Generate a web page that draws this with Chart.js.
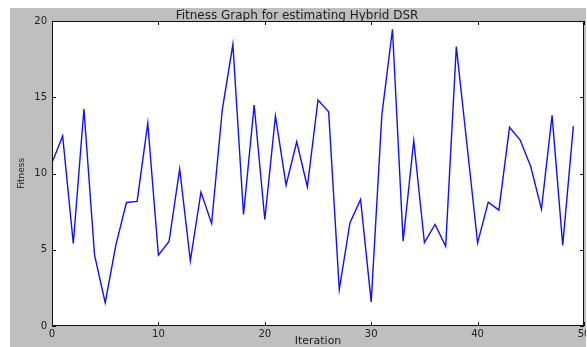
<!DOCTYPE html>
<html>
<head>
<meta charset="utf-8">
<script src="https://cdn.jsdelivr.net/npm/chart.js@4/dist/chart.umd.min.js"></script>
<style>
  body { margin: 0; background: #ffffff; }
  #wrap { position: absolute; left: 10px; top: 8px; width: 576px; height: 339px; background: #bfbfbf; }
  canvas { display: block; }
</style>
</head>
<body>
<div id="wrap"><canvas id="fitnessChart" width="576" height="339"></canvas></div>
<script>
var iterations = [0, 1, 2, 3, 4, 5, 6, 7, 8, 9,
                  10, 11, 12, 13, 14, 15, 16, 17, 18, 19,
                  20, 21, 22, 23, 24, 25, 26, 27, 28, 29,
                  30, 31, 32, 33, 34, 35, 36, 37, 38, 39,
                  40, 41, 42, 43, 44, 45, 46, 47, 48, 49];
var fitness = [10.7, 12.46, 5.41, 14.23, 4.64, 1.53, 5.3, 8.1, 8.17, 13.29,
               4.64, 5.54, 10.3, 4.27, 8.78, 6.72, 14.16, 18.47, 7.31, 14.49,
               6.98, 13.77, 9.24, 12.08, 9.13, 14.82, 14.05, 2.39, 6.76, 8.3,
               1.58, 13.83, 19.46, 5.56, 12.15, 5.47, 6.66, 5.23, 18.32, 11.9,
               5.45, 8.12, 7.6, 13.03, 12.19, 10.44, 7.66, 13.81, 5.3, 13.11];
var xTicks = [0, 10, 20, 30, 40, 50];
var yTicks = [0, 5, 10, 15, 20];

var points = [];
for (var i = 0; i < iterations.length; i++) {
    points.push({ x: iterations[i], y: fitness[i] });
}

// white plot area, black frame and inward ticks like matplotlib
var framePlugin = {
    id: 'frame',
    beforeDraw: function (chart) {
        var a = chart.chartArea, ctx = chart.ctx;
        ctx.save();
        ctx.fillStyle = '#ffffff';
        ctx.fillRect(a.left, a.top, a.right - a.left, a.bottom - a.top);
        ctx.restore();
    },
    afterDraw: function (chart) {
        var a = chart.chartArea, ctx = chart.ctx;
        var xs = chart.scales.x, ys = chart.scales.y;
        ctx.save();
        ctx.strokeStyle = '#111111';
        ctx.lineWidth = 1;
        ctx.strokeRect(Math.round(a.left) + 0.5, Math.round(a.top) + 0.5,
                       Math.round(a.right - a.left) - 1, Math.round(a.bottom - a.top) - 1);
        ctx.beginPath();
        xTicks.forEach(function (v) {
            var px = Math.round(xs.getPixelForValue(v)) + 0.5;
            ctx.moveTo(px, a.bottom); ctx.lineTo(px, a.bottom - 4);
            ctx.moveTo(px, a.top); ctx.lineTo(px, a.top + 4);
        });
        yTicks.forEach(function (v) {
            var py = Math.round(ys.getPixelForValue(v)) + 0.5;
            ctx.moveTo(a.left, py); ctx.lineTo(a.left + 4, py);
            ctx.moveTo(a.right, py); ctx.lineTo(a.right - 4, py);
        });
        ctx.stroke();
        ctx.restore();
    }
};

var ctx = document.getElementById('fitnessChart').getContext('2d');
new Chart(ctx, {
    type: 'line',
    data: {
        datasets: [{
            label: 'Fitness',
            data: points,
            borderColor: '#1010ff',
            borderWidth: 1.4,
            pointRadius: 0,
            tension: 0,
            fill: false
        }]
    },
    options: {
        responsive: false,
        animation: false,
        devicePixelRatio: 1,
        layout: { padding: { left: 0, right: 2, top: 0, bottom: 0 } },
        plugins: {
            legend: { display: false },
            tooltip: { enabled: false },
            title: {
                display: true,
                text: 'Fitness Graph for estimating Hybrid DSR',
                color: '#222222',
                font: { family: 'DejaVu Sans', size: 12, weight: 'normal', lineHeight: 1 },
                padding: { top: 2, bottom: -1 }
            }
        },
        scales: {
            x: {
                type: 'linear',
                min: 0,
                max: 50,
                afterBuildTicks: function (s) { s.ticks = xTicks.map(function (v) { return { value: v }; }); },
                afterFit: function (s) { s.height = 21; s.paddingLeft = 0; s.paddingRight = 0; },
                grid: { display: false, drawTicks: false },
                border: { display: false },
                ticks: {
                    color: '#222222',
                    padding: 2,
                    maxRotation: 0,
                    font: { family: 'DejaVu Sans', size: 10 }
                },
                title: {
                    display: true,
                    text: 'Iteration',
                    color: '#222222',
                    padding: 0,
                    font: { family: 'DejaVu Sans', size: 11, lineHeight: 1 }
                }
            },
            y: {
                min: 0,
                max: 20,
                afterBuildTicks: function (s) { s.ticks = yTicks.map(function (v) { return { value: v }; }); },
                afterFit: function (s) { s.width = 42; s.paddingTop = 0; s.paddingBottom = 0; },
                grid: { display: false, drawTicks: false },
                border: { display: false },
                ticks: {
                    color: '#222222',
                    padding: 5,
                    font: { family: 'DejaVu Sans', size: 10 }
                },
                title: {
                    display: true,
                    text: 'Fitness',
                    color: '#222222',
                    padding: { top: 7, bottom: 0 },
                    font: { family: 'DejaVu Sans', size: 9, lineHeight: 1 }
                }
            }
        }
    },
    plugins: [framePlugin]
});
</script>
</body>
</html>
